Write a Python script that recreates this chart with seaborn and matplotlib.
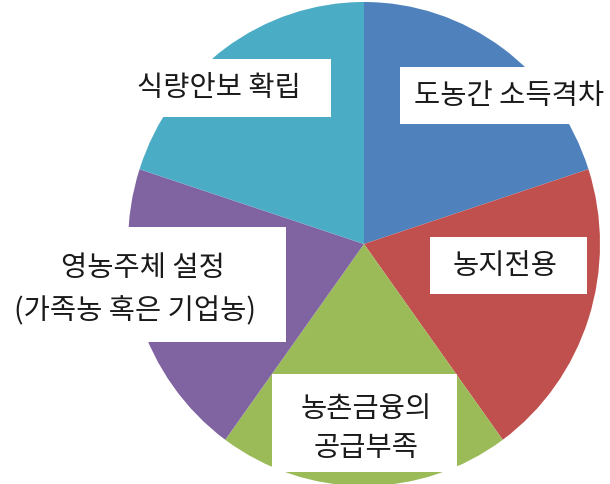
import matplotlib
matplotlib.use("Agg")
import matplotlib.pyplot as plt
import seaborn as sns
from matplotlib.patches import Rectangle

sns.set_theme(style="white")
plt.rcParams['font.family'] = ['Noto Sans CJK KR', 'DejaVu Sans']

# Data: five issues of equal weight
categories = ["도농간 소득격차", "농지전용", "농촌금융의 공급부족", "영농주체 설정 (가족농 혹은 기업농)", "식량안보 확립"]
values = [1, 1, 1, 1, 1]
colors = ["#4F81BD", "#C0504D", "#9BBB59", "#8064A2", "#4BACC6"]

W, H = 610, 485
fig = plt.figure(figsize=(W / 100, H / 100), dpi=100)
fig.patch.set_facecolor("white")

# axes placed so the pie fills the frame like the reference
ax = fig.add_axes([128 / W, 1 - 487 / H, 472 / W, 484 / H])
ax.pie(values, colors=colors, startangle=90, counterclock=False,
       wedgeprops=dict(linewidth=0))
ax.set_aspect('auto')
ax.set_xlim(-1, 1)
ax.set_ylim(-1, 1)
ax.axis('off')

def px_rect(x0, y0, x1, y1):
    fig.patches.append(Rectangle((x0 / W, 1 - y1 / H), (x1 - x0) / W, (y1 - y0) / H,
                                 transform=fig.transFigure, facecolor="white",
                                 edgecolor="none", zorder=5))

def px_text(x, y, s, ha="center"):
    fig.text(x / W, 1 - y / H, s, ha=ha, va="center", fontsize=20.5,
             color="#1a1a1a", zorder=6)

# label boxes (pixel layout)
px_rect(400, 68, 615, 125)
px_rect(90, 60, 331, 118)
px_rect(430, 238, 587, 295)
px_rect(0, 228, 286, 343)
px_rect(272, 375, 457, 473)

px_text(414, 96, "도농간 소득격차", ha="left")
px_text(219, 88, "식량안보 확립")
px_text(505, 266, "농지전용")
px_text(143, 268, "영농주체 설정")
px_text(135, 311, "(가족농 혹은 기업농)")
px_text(366, 409, "농촌금융의")
px_text(366, 448, "공급부족")

fig.savefig("out.png", dpi=100, facecolor="white")
